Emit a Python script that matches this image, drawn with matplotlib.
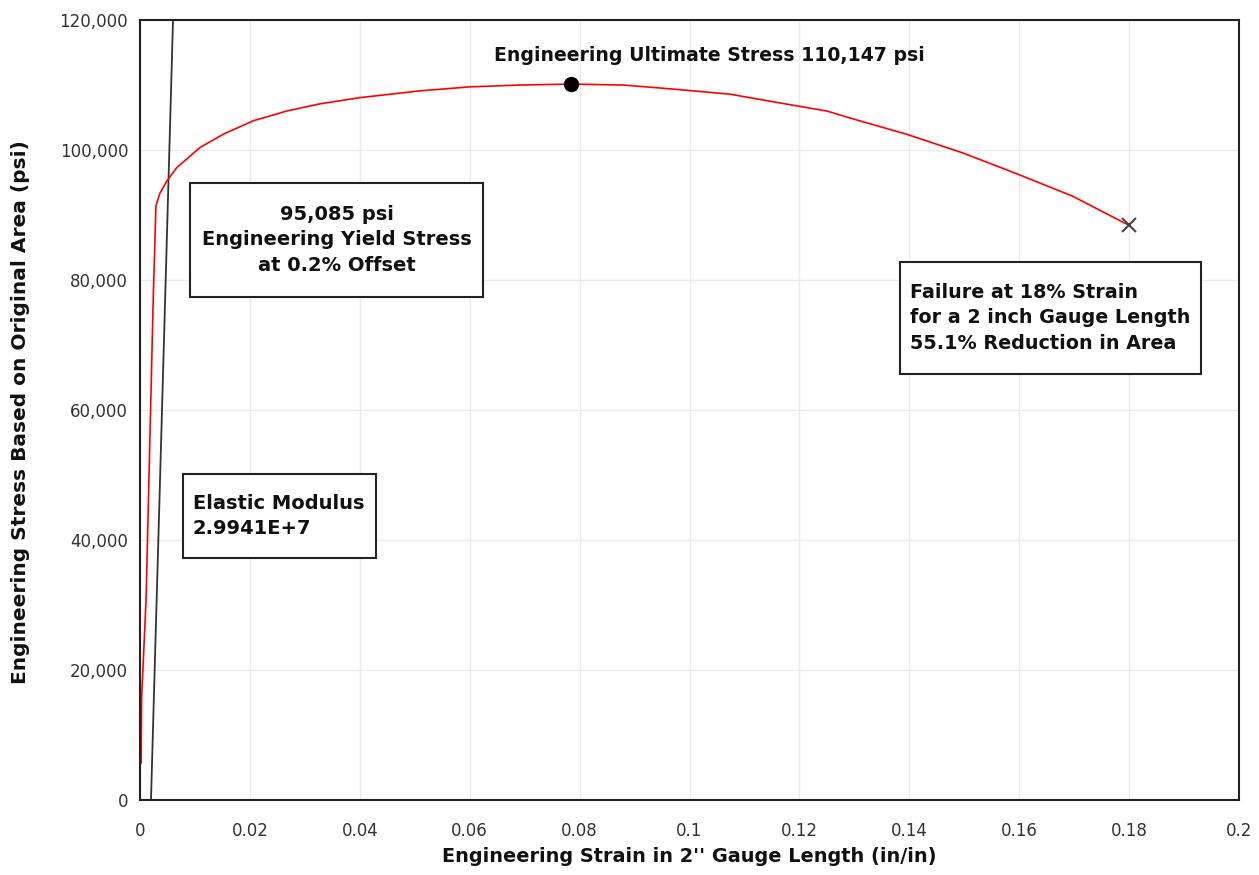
import numpy as np
import matplotlib
matplotlib.use("Agg")
import matplotlib.pyplot as plt
from matplotlib.patches import Rectangle

plt.rcParams['font.family'] = ['DejaVu Sans']

########################################
#   Data
########################################

strain = [0.0002, 0.0003, 0.0011, 0.0024, 0.0029, 0.0036, 0.0049, 0.0067, 0.0109,
          0.0152, 0.0206, 0.0267, 0.0327, 0.0400, 0.0509, 0.0600, 0.0690, 0.0785,
          0.0880, 0.0967, 0.1073, 0.1164, 0.1250, 0.1297, 0.1396, 0.1497, 0.1597,
          0.1697, 0.1800]
stress = [5700, 15800, 30700, 76800, 91400, 93300, 95260, 97300, 100380,
          102450, 104500, 106000, 107100, 108060, 109100, 109720, 110000, 110147,
          110000, 109400, 108600, 107250, 106000, 104800, 102400, 99560, 96300,
          92900, 88400]

ultimateStrain = 0.0785
ultimateStress = 110147
failureStrain = 0.18
failureStress = 88400

elasticModulus = 2.9941e7
offset = 0.002
modulusStress = [0, 120000]

xTicks = [0, 0.02, 0.04, 0.06, 0.08, 0.1, 0.12, 0.14, 0.16, 0.18, 0.2]
xTickLabels = ['0', '0.02', '0.04', '0.06', '0.08', '0.1', '0.12', '0.14', '0.16', '0.18', '0.2']
yTicks = [0, 20000, 40000, 60000, 80000, 100000, 120000]

########################################
#   Plot
########################################

fig = plt.figure(figsize=(12.59, 8.75), dpi=100)
ax = fig.add_axes([0.1112, 0.0857, 0.8730, 0.8914])

ax.set_xlim(0, 0.2)
ax.set_ylim(0, 120000)
ax.grid(True, color='#ebebeb', linewidth=1)
ax.set_axisbelow(True)

# 0.2% offset modulus line
modulusStrain = [s / elasticModulus + offset for s in modulusStress]
ax.plot(modulusStrain, modulusStress, color='#333333', linewidth=1.3)

ax.plot(strain, stress, color='red', linewidth=1.2)
ax.plot(ultimateStrain, ultimateStress, 'o', color='black', markersize=10)
ax.plot(failureStrain, failureStress, 'x', color='#444444', markersize=10, markeredgewidth=1.5)

ax.set_xticks(xTicks)
ax.set_xticklabels(xTickLabels)
ax.set_yticks(yTicks)
ax.set_yticklabels(['{:,}'.format(v) for v in yTicks])
ax.tick_params(length=0, labelsize=12, labelcolor='#333333')
ax.tick_params(axis='x', pad=16)
ax.tick_params(axis='y', pad=8.5)

for s in ax.spines.values():
    s.set_linewidth(1.5)
    s.set_color('#222222')

ax.set_xlabel("Engineering Strain in 2'' Gauge Length (in/in)", fontsize=13.9, fontweight='bold', color='#111111')
ax.set_ylabel("Engineering Stress Based on Original Area (psi)", fontsize=14.5, fontweight='bold', color='#111111')
ax.xaxis.set_label_coords(0.5, -0.060)
ax.yaxis.set_label_coords(-0.100, 0.497)

textStyle = dict(fontweight='bold', color='#111111', transform=ax.transAxes)

ax.text(0.5177, 0.955, 'Engineering Ultimate Stress 110,147 psi', ha='center', va='center',
        fontsize=13.6, **textStyle)

# yield box
ax.add_patch(Rectangle((0.0455, 0.6449), 0.2666, 0.1462, transform=ax.transAxes,
                       facecolor='white', edgecolor='#222222', linewidth=1.5, zorder=5))
ax.text(0.1788, 0.7180, '95,085 psi\nEngineering Yield Stress\nat 0.2% Offset', ha='center', va='center',
        fontsize=14, linespacing=1.45, zorder=6, **textStyle)

# elastic box
ax.add_patch(Rectangle((0.0391, 0.3103), 0.1756, 0.1077, transform=ax.transAxes,
                       facecolor='white', edgecolor='#222222', linewidth=1.5, zorder=5))
ax.text(0.0482, 0.3641, 'Elastic Modulus\n2.9941E+7', ha='left', va='center',
        fontsize=14, linespacing=1.35, zorder=6, **textStyle)

# failure box
ax.add_patch(Rectangle((0.6915, 0.5462), 0.2739, 0.1436, transform=ax.transAxes,
                       facecolor='white', edgecolor='#222222', linewidth=1.5, zorder=5))
ax.text(0.7006, 0.6180, 'Failure at 18% Strain\nfor a 2 inch Gauge Length\n55.1% Reduction in Area',
        ha='left', va='center', fontsize=13.8, linespacing=1.42, zorder=6, **textStyle)

plt.savefig('out.png', dpi=100)
